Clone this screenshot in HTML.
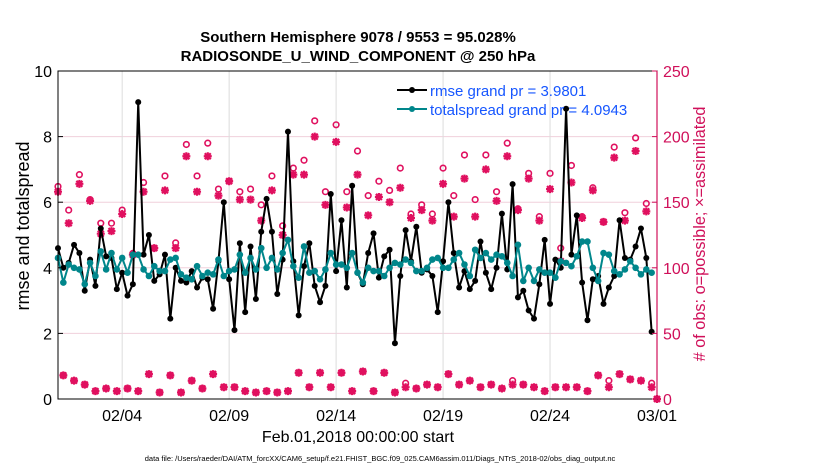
<!DOCTYPE html>
<html><head><meta charset="utf-8"><style>
body{margin:0;background:#fff;width:830px;height:470px;overflow:hidden}
svg text{font-family:"Liberation Sans",sans-serif}
</style></head><body>
<svg id="chart" width="830" height="470" xmlns="http://www.w3.org/2000/svg">
<g id="grid"></g>
<g id="series"></g>
<g id="axes"></g>
<text x="358" y="42" text-anchor="middle" font-size="15" font-weight="bold">Southern Hemisphere 9078 / 9553 = 95.028%</text>
<text x="358" y="61" text-anchor="middle" font-size="15" font-weight="bold">RADIOSONDE_U_WIND_COMPONENT @ 250 hPa</text>
<text transform="translate(29,226) rotate(-90)" text-anchor="middle" font-size="18">rmse and totalspread</text>
<text transform="translate(705,234) rotate(-90)" text-anchor="middle" font-size="16.3" fill="#d0105a"># of obs: o=possible; ×=assimilated</text>
<text x="358" y="442" text-anchor="middle" font-size="16">Feb.01,2018 00:00:00 start</text>
<text x="380" y="461" text-anchor="middle" font-size="7.5">data file: /Users/raeder/DAI/ATM_forcXX/CAM6_setup/f.e21.FHIST_BGC.f09_025.CAM6assim.011/Diags_NTrS_2018-02/obs_diag_output.nc</text>
<g>
<g>
<line x1="397" y1="90" x2="427" y2="90" stroke="#000" stroke-width="2"/><circle cx="412" cy="90" r="3" fill="#000"/>
<text x="430" y="96" font-size="15" fill="#1656ff">rmse grand pr = 3.9801</text></g>
<g>
<line x1="397" y1="109" x2="427" y2="109" stroke="#00868b" stroke-width="2"/><circle cx="412" cy="109" r="3" fill="#00868b"/>
<text x="430" y="115" font-size="15" fill="#1656ff">totalspread grand pr = 4.0943</text></g>
</g>
</svg>
<script>
const xTickLabels=['02/04','02/09','02/14','02/19','02/24','03/01'];
const xTickDays=[3,8,13,18,23,28];
const leftTicks=[0,2,4,6,8,10];
const rightTicks=[0,50,100,150,200,250];
const rmse=[4.6,4.0,4.15,4.7,4.45,3.3,4.25,3.45,5.2,4.35,4.3,3.35,3.85,3.15,3.5,9.05,4.4,5.0,3.6,3.8,4.4,2.45,4.0,3.6,3.55,3.9,3.4,3.7,3.65,2.75,4.2,6.0,3.65,2.1,4.75,2.65,4.65,3.05,5.1,
6.1,5.1,3.2,4.25,8.15,4.2,2.55,4.05,4.75,3.45,2.95,3.45,6.25,3.9,5.45,3.4,6.5,3.85,3.5,4.45,5.05,3.7,4.35,4.55,1.7,3.75,5.15,4.2,5.25,3.85,3.95,3.75,2.65,
4.2,6.0,4.45,3.4,3.9,3.35,3.6,4.8,3.85,3.35,4.0,5.65,3.95,6.55,3.1,3.3,2.7,2.45,3.5,4.85,2.9,4.25,4.0,8.85,4.4,5.6,3.55,2.4,3.65,3.75,2.9,3.4,3.75,5.45,4.3,4.25,4.65,5.2,4.3,2.05];
const spread=[4.3,3.55,4.1,4.0,3.95,3.5,4.15,3.75,4.5,3.95,4.45,3.95,4.3,3.85,4.4,4.4,3.95,3.75,4.05,3.9,3.9,4.25,4.3,3.8,3.7,3.65,4.05,3.75,3.85,3.8,4.25,3.75,3.9,3.95,4.4,3.85,4.3,3.95,4.6,
4.0,4.3,3.95,4.45,4.85,4.05,3.7,4.65,3.85,3.9,3.65,3.95,4.45,4.1,4.1,4.0,4.45,3.85,3.55,4.0,3.9,3.9,3.75,4.0,4.15,4.1,4.25,4.15,3.9,3.9,4.0,4.25,4.3,
4.0,4.0,4.25,4.45,4.1,3.75,4.55,4.3,4.45,4.25,4.4,4.35,4.15,3.75,4.7,3.6,4.0,3.6,3.95,3.85,3.85,3.7,4.2,4.15,4.05,4.35,4.8,4.8,4.0,3.6,4.45,4.4,3.9,3.8,3.95,4.2,4.0,3.8,3.95,3.85];
// counts at 00Z/12Z times
const possibleMain=[162,144,171,152,134,134,144,111,165,115,170,119,194,170,195,160,166,158,160,148,170,132,176,182,212,158,209,158,189,155,166,159,176,141,148,141,176,155,186,152,186,158,195,145,172,139,172,115,178,139,161,135,192,142,199,149];
const assimMain=[158,134,164,151,126,128,141,110,158,115,159,115,185,158,185,155,166,152,152,136,159,125,171,171,200,148,196,146,171,140,154,150,161,138,144,136,164,139,168,139,175,151,185,144,168,136,160,105,165,138,159,135,184,136,189,143];
// counts at 06Z/18Z times
const possibleOff=[18,14,11,6,8,6,8,6,19,5,18,5,14,8,19,9,9,6,5,6,5,6,20,9,20,9,20,6,21,6,20,5,12,8,11,9,19,11,14,9,11,8,14,11,9,6,9,9,9,6,18,14,19,15,14,12];
const assimOff=[18,14,11,6,8,6,8,6,19,5,18,5,14,8,19,9,9,6,5,6,5,6,20,9,20,9,20,6,21,6,20,5,9,8,11,9,19,11,14,9,11,8,11,11,9,6,9,9,9,6,18,9,19,15,14,9];
const finalPossible=0, finalAssim=0;

const X0=58,X1=657,Y0=399,Y1=71;
const xs=d=>X0+(X1-X0)*d/28;
const yL=v=>Y0-(Y0-Y1)*v/10;
const yR=v=>Y0-(Y0-Y1)*v/250;
const NS='http://www.w3.org/2000/svg';
function mk(tag,attrs,parent){const e=document.createElementNS(NS,tag);for(const k in attrs)e.setAttribute(k,attrs[k]);parent.appendChild(e);return e;}
const grid=document.getElementById('grid'),ser=document.getElementById('series'),ax=document.getElementById('axes');
const RED='#d0105a';
rightTicks.forEach(v=>{if(v>0&&v<250){const l=mk('line',{x1:X0,x2:X1,y1:yR(v),y2:yR(v),stroke:'#f0d0dc','stroke-width':1},grid);

}});
xTickDays.forEach(d=>{if(d<28){const l=mk('line',{x1:xs(d),x2:xs(d),y1:Y1,y2:Y0,stroke:'#dcdcdc','stroke-width':1},grid);

}});
const N=113;
const poss=[],asm=[];
for(let k=0;k<N;k++){if(k===112){poss.push(finalPossible);asm.push(finalAssim);}else if(k%2===0){poss.push(possibleMain[k/2]);asm.push(assimMain[k/2]);}else{poss.push(possibleOff[(k-1)/2]);asm.push(assimOff[(k-1)/2]);}}
for(let k=0;k<N;k++){const x=xs(k/4);
const c=mk('circle',{cx:x,cy:yR(poss[k]),r:2.8,fill:'none',stroke:'#e0105f','stroke-width':1.6},ser);


const y=yR(asm[k]),s=4;
const a=mk('path',{d:`M${x-s},${y}H${x+s}M${x},${y-s}V${y+s}M${x-3},${y-3}L${x+3},${y+3}M${x-3},${y+3}L${x+3},${y-3}`,stroke:'#e0105f','stroke-width':2.2},ser);

}
function drawLine(arr,col,name,r){let d='';arr.forEach((v,k)=>{d+=(k?'L':'M')+xs(k/4)+','+yL(v);});
const p=mk('path',{d:d,fill:'none',stroke:col,'stroke-width':2,'stroke-linejoin':'round'},ser);


arr.forEach((v,k)=>{const c=mk('circle',{cx:xs(k/4),cy:yL(v),r:r,fill:col},ser);

});}
drawLine(rmse,'#000','rmse',3);
drawLine(spread,'#00868b','totalspread',3.3);
const b=mk('rect',{x:X0,y:Y1,width:X1-X0,height:Y0-Y1,fill:'none',stroke:'#000','stroke-width':1},ax);


const rl=mk('line',{x1:X1,x2:X1,y1:Y1,y2:Y0,stroke:RED,'stroke-width':1.2},ax);


leftTicks.forEach(v=>{const t=mk('text',{x:X0-6,y:yL(v)+6,'text-anchor':'end','font-size':16},ax);t.textContent=v;


mk('line',{x1:X0,x2:X0+5,y1:yL(v),y2:yL(v),stroke:'#000'},ax);});
rightTicks.forEach(v=>{const t=mk('text',{x:X1+6,y:yR(v)+6,'font-size':16,fill:RED},ax);t.textContent=v;


mk('line',{x1:X1-5,x2:X1,y1:yR(v),y2:yR(v),stroke:RED},ax);});
xTickDays.forEach((d,i)=>{const t=mk('text',{x:xs(d),y:Y0+22,'text-anchor':'middle','font-size':16},ax);t.textContent=xTickLabels[i];

});
</script>
</body></html>
